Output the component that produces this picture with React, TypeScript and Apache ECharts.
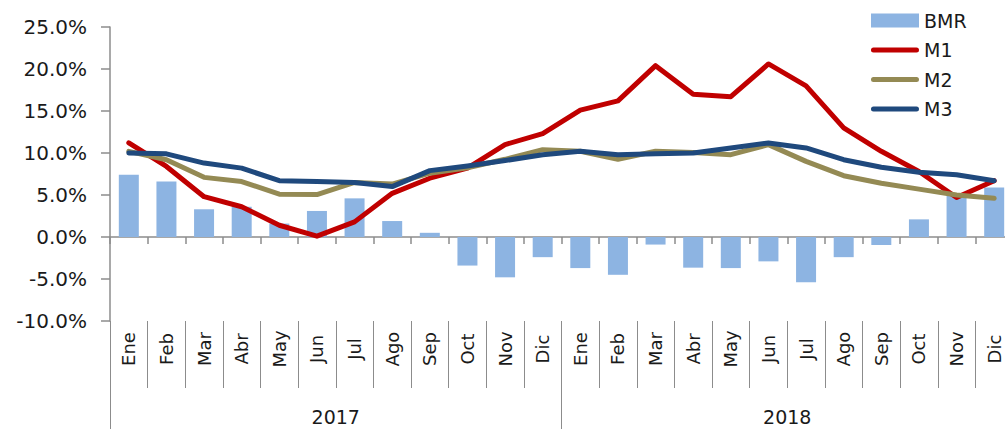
import React, { useEffect, useRef } from "react";
import * as echarts from "echarts";

const months = ["Ene","Feb","Mar","Abr","May","Jun","Jul","Ago","Sep","Oct","Nov","Dic","Ene","Feb","Mar","Abr","May","Jun","Jul","Ago","Sep","Oct","Nov","Dic"];
const years = ["2017", "2018"];
const bmr = [7.4, 6.6, 3.3, 3.6, 1.6, 3.1, 4.6, 1.9, 0.5, -3.4, -4.8, -2.4, -3.7, -4.5, -0.9, -3.65, -3.7, -2.9, -5.4, -2.4, -0.95, 2.1, 5.0, 5.9];
const m1 = [11.2, 8.4, 4.8, 3.6, 1.4, 0.1, 1.8, 5.2, 7.0, 8.2, 11.0, 12.3, 15.1, 16.2, 20.4, 17.0, 16.7, 20.6, 18.0, 13.0, 10.2, 7.8, 4.7, 6.7];
const m2 = [10.2, 9.2, 7.1, 6.6, 5.1, 5.05, 6.5, 6.3, 7.6, 8.25, 9.25, 10.4, 10.2, 9.25, 10.2, 10.05, 9.8, 11.0, 9.0, 7.3, 6.4, 5.7, 5.0, 4.6];
const m3 = [10.0, 9.9, 8.8, 8.2, 6.7, 6.6, 6.5, 6.0, 7.9, 8.45, 9.1, 9.8, 10.2, 9.8, 9.9, 10.0, 10.6, 11.2, 10.6, 9.2, 8.3, 7.7, 7.4, 6.7];

const FONT = "DejaVu Sans";
const GRAY = "#8c8c8c";
// thin rounded bar, vertically centred in a 48x14 icon box
const LINE_ICON =
  "path://M0,0L0,0M48,14L48,14M2.5,4.5L45.5,4.5A2.5,2.5,0,0,1,45.5,9.5L2.5,9.5A2.5,2.5,0,0,1,2.5,4.5Z";

export default function App() {
  const ref = useRef<HTMLDivElement>(null);
  useEffect(() => {
    document.body.style.margin = "0";
    const chart = echarts.init(ref.current!, null, { renderer: "svg" });
    chart.setOption({
      animation: false,
      backgroundColor: "#ffffff",
      textStyle: { fontFamily: FONT, color: "#1a1a1a" },
      legend: {
        orient: "vertical",
        left: 866,
        top: 6,
        itemWidth: 48,
        itemHeight: 14,
        itemGap: 10.5,
        textStyle: { fontFamily: FONT, fontSize: 19, color: "#1a1a1a", lineHeight: 19 },
        data: [
          { name: "BMR", icon: "rect" },
          { name: "M1", icon: LINE_ICON },
          { name: "M2", icon: LINE_ICON },
          { name: "M3", icon: LINE_ICON },
        ],
      },
      grid: { left: 110, right: 0, top: 27, bottom: 108, containLabel: false },
      xAxis: [
        {
          type: "category",
          data: months,
          position: "bottom",
          axisLine: { onZero: true, lineStyle: { color: GRAY, width: 1.5 } },
          axisTick: { show: true, length: 7, lineStyle: { color: GRAY, width: 1.5 } },
          axisLabel: { show: false },
          splitLine: { show: false },
        },
        {
          type: "category",
          data: months,
          position: "bottom",
          axisLine: { show: false, onZero: false },
          axisTick: { show: true, length: 67, lineStyle: { color: GRAY, width: 1 } },
          axisLabel: {
            rotate: 90,
            align: "center",
            margin: 28,
            fontSize: 18,
            fontFamily: FONT,
            color: "#1a1a1a",
            interval: 0,
          },
          splitLine: { show: false },
        },
        {
          type: "category",
          data: years,
          position: "bottom",
          axisLine: { show: false, onZero: false },
          axisTick: { show: true, length: 108, lineStyle: { color: GRAY, width: 1 } },
          axisLabel: { margin: 86, fontSize: 19, fontFamily: FONT, color: "#1a1a1a", interval: 0 },
          splitLine: { show: false },
        },
      ],
      yAxis: {
        type: "value",
        min: -10,
        max: 25,
        interval: 5,
        axisLine: { show: true, lineStyle: { color: GRAY, width: 1.5 } },
        axisTick: { show: true, length: 9, lineStyle: { color: GRAY, width: 1.5 } },
        splitLine: { show: false },
        axisLabel: {
          margin: 23,
          fontSize: 20,
          fontFamily: FONT,
          color: "#1a1a1a",
          formatter: (v: number) => v.toFixed(1) + "%",
        },
      },
      series: [
        {
          name: "BMR",
          type: "bar",
          data: bmr,
          barWidth: 20,
          itemStyle: { color: "#8DB4E2" },
        },
        {
          name: "M1",
          type: "line",
          data: m1,
          symbol: "none",
          lineStyle: { color: "#C00000", width: 5, cap: "round", join: "round" },
          itemStyle: { color: "#C00000" },
        },
        {
          name: "M2",
          type: "line",
          data: m2,
          symbol: "none",
          lineStyle: { color: "#948A54", width: 5, cap: "round", join: "round" },
          itemStyle: { color: "#948A54" },
        },
        {
          name: "M3",
          type: "line",
          data: m3,
          symbol: "none",
          lineStyle: { color: "#1F497D", width: 5, cap: "round", join: "round" },
          itemStyle: { color: "#1F497D" },
        },
      ],
    });
    return () => chart.dispose();
  }, []);
  return (
    <div style={{ width: 1005, height: 429, overflow: "hidden", position: "relative" }}>
      <div ref={ref} style={{ width: 1013, height: 429 }} />
    </div>
  );
}
